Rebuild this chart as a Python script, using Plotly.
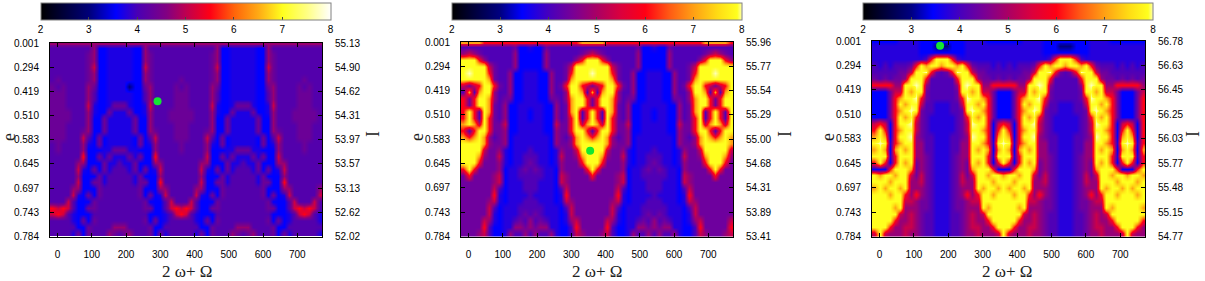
import plotly.graph_objects as go
import numpy as np

# Three panels of the same map.
# Each row is one band of e (top to bottom), each char one column of 2w+W (-15, 0, 15 ... 765).
# The char is an index into the panel's levels list.
CODES = "0123456789w"
LEVELS_A = [3.0, 3.55, 3.72, 4.1, 4.35, 4.75, 5.1, 5.5, 6.2, 7.0, 8.0]
LEVELS_B = [3.0, 3.45, 3.75, 4.1, 4.4, 4.8, 5.3, 5.95, 7.0, 7.9, 8.0]

x_vals = list(range(-15, 766, 15))
x_ticks = [0, 100, 200, 300, 400, 500, 600, 700]
e_labels = ["0.001", "0.294", "0.419", "0.510", "0.583", "0.645", "0.697", "0.743", "0.784"]
I_labels_a = ["55.13", "54.90", "54.62", "54.31", "53.97", "53.57", "53.13", "52.62", "52.02"]
I_labels_b = ["55.96", "55.77", "55.54", "55.29", "55.00", "54.68", "54.31", "53.89", "53.41"]
I_labels_c = ["56.78", "56.63", "56.45", "56.25", "56.03", "55.77", "55.48", "55.15", "54.77"]
cbar_ticks = [2, 3, 4, 5, 6, 7, 8]

rows_a = [
    "55555555555555555555555555555555555555555555555555555",
    "3" + "3333333511222" + "22115333333" + "3333333511222" + "22115333333" + "3333",
    "3" + "3333334511222" + "22115433333" + "3333334511222" + "22115433333" + "3333",
    "3" + "3333334511222" + "22115433333" + "3333334511222" + "22115433333" + "3333",
    "3" + "3333334611222" + "22116433333" + "3333334611222" + "22116433333" + "3333",
    "3" + "3333334511222" + "22115433333" + "3333334511222" + "22115433333" + "3333",
    "3" + "4333334511222" + "22115433333" + "4333334511222" + "22115433333" + "4333",
    "4" + "3433335411222" + "20114533334" + "3433335411222" + "22114533334" + "3433",
    "4" + "4433335311222" + "22113533334" + "4433335311222" + "22113533334" + "4433",
    "4" + "4433335311222" + "22113533334" + "4433335311222" + "22113533334" + "4433",
    "4" + "4433336211244" + "42112633334" + "4433336211244" + "42112633334" + "4433",
    "4" + "4443335211422" + "24112533344" + "4443335211422" + "24112533344" + "4443",
    "4" + "4443335114222" + "22411533344" + "4443335114222" + "22411533344" + "4443",
    "4" + "4433335114222" + "22411533334" + "4433335114222" + "22411533334" + "4433",
    "4" + "4433345114222" + "22411543334" + "4433345114222" + "22411543334" + "4433",
    "4" + "4433363141222" + "22141363334" + "4433363141222" + "22141363334" + "4433",
    "3" + "4333352141222" + "22141253333" + "4333352141222" + "22141253333" + "4333",
    "3" + "4333351112244" + "42211153333" + "4333351112244" + "42211153333" + "4333",
    "3" + "3333371142422" + "24241173333" + "3333361142422" + "24241163333" + "3333",
    "3" + "3333551114223" + "22411155333" + "3333551114223" + "22411155333" + "3333",
    "3" + "3333621414233" + "32414126333" + "3333621414233" + "32414126333" + "3333",
    "3" + "3333511142333" + "33241115333" + "3333511142333" + "33241115333" + "3333",
    "3" + "3333611442333" + "33244117333" + "3333611442333" + "33244117333" + "3333",
    "3" + "3335511143333" + "33341115533" + "3335511143333" + "33341115533" + "3335",
    "3" + "3336214143333" + "33341412633" + "3336214143333" + "33341412633" + "3336",
    "3" + "3363111433333" + "33334111363" + "3363111433333" + "33334111363" + "3363",
    "7" + "6763114433333" + "33334411367" + "6763114433333" + "33334411367" + "6763",
    "6" + "7632111333333" + "33333111236" + "7632111333333" + "33333111236" + "7632",
    "3" + "3332141433333" + "33334141233" + "3332141433333" + "33334141233" + "3332",
    "3" + "3333114333355" + "53333411333" + "3333114333355" + "53333411333" + "3333",
    "3" + "3332414333543" + "45333414233" + "3332414333543" + "45333414233" + "3332",
]

rows_b = [
    "8" + "8887777777777" + "77777777788" + "8887777777777" + "77777777788" + "8887",
    "3" + "3333333334112" + "11433333333" + "3333333334112" + "11433333333" + "3333",
    "5" + "6543333335111" + "11533333345" + "6543333335111" + "11533333345" + "6543",
    "9" + "9975333335111" + "11533333579" + "9975333335111" + "11533333579" + "9975",
    "9" + "9999643335111" + "11533346999" + "9999643335111" + "11533346999" + "9999",
    "9" + "w999743351122" + "21153347999" + "w999743351122" + "21153347999" + "w999",
    "9" + "9999843351122" + "21153348999" + "9999843351122" + "21153348999" + "9999",
    "6" + "4679974351122" + "21153479976" + "4679974351122" + "21153479976" + "4679",
    "3" + "8389953351122" + "21153359983" + "8389953351122" + "21153359983" + "8389",
    "7" + "4799853441122" + "21144358997" + "4799853441122" + "21144358997" + "4799",
    "7" + "4799843511222" + "22115348997" + "4799843511222" + "22115348997" + "4799",
    "7" + "9739843511221" + "22115348937" + "9739843511221" + "22115348937" + "9739",
    "7" + "9739743511221" + "22115347937" + "9739743511221" + "22115347937" + "9739",
    "8" + "9869744611222" + "22116447968" + "9869744611222" + "22116447968" + "9869",
    "7" + "3799744511222" + "22115447997" + "3799744511222" + "22115447997" + "3799",
    "8" + "7898534512222" + "22215435898" + "7898534512222" + "22215435898" + "7898",
    "9" + "9998544512222" + "22215445899" + "9998544512222" + "22215445899" + "9998",
    "9" + "9996445212223" + "22212544699" + "9996445212223" + "22212544699" + "9996",
    "9" + "9985446212233" + "32212644589" + "9985446212233" + "32212644589" + "9985",
    "9" + "9974445212234" + "32212544479" + "9974445212234" + "32212544479" + "9974",
    "7" + "9744445122343" + "43221544447" + "9744445122343" + "43221544447" + "9744",
    "4" + "7444456122333" + "33221654444" + "7444456122333" + "33221654444" + "7444",
    "4" + "4444456122233" + "32221654444" + "4444456122233" + "32221654444" + "4444",
    "4" + "4444463122233" + "32221364444" + "4444463122233" + "32221364444" + "4444",
    "4" + "4444472122223" + "22221274444" + "4444472122223" + "22221274444" + "4444",
    "4" + "4444562122233" + "32221265444" + "4444562122233" + "32221265444" + "4444",
    "4" + "4444631222333" + "33222136444" + "4444631222333" + "33222136444" + "4444",
    "4" + "4444621222343" + "43222126444" + "4444621222343" + "43222126444" + "4444",
    "4" + "4446521223435" + "34322125644" + "4446521223435" + "34322125644" + "4446",
    "4" + "4447311225545" + "45522113744" + "4447311225545" + "45522113744" + "4447",
    "4" + "4456311253353" + "53352113654" + "4456311253353" + "53352113654" + "4456",
]

rows_c = [
    "1" + "1111222211111" + "11112222111" + "1111222211111" + "11112222111" + "1111",
    "2" + "2222222211100" + "01112222222" + "2222222211100" + "01112222222" + "2222",
    "2" + "2222222211111" + "11112222222" + "2222222211111" + "11112222222" + "2222",
    "2" + "2222222223799" + "97322222222" + "2222222223799" + "97322222222" + "2222",
    "3" + "2323334798998" + "99897433323" + "2323334798998" + "99897433323" + "2323",
    "3" + "333344699w743" + "47w99644333" + "333344699w743" + "47w99644333" + "3333",
    "4" + "3434459997333" + "33799954434" + "3434459997333" + "33799954434" + "3434",
    "7" + "7775599w95333" + "3359w995577" + "7775599w95333" + "3359w995577" + "7775",
    "1" + "1146698994333" + "33499896641" + "1146698994333" + "33499896641" + "1146",
    "1" + "1147899w74333" + "3347w998741" + "1147899w74333" + "3347w998741" + "1147",
    "1" + "1147989963322" + "23369989741" + "1147989963322" + "23369989741" + "1147",
    "1" + "114789w943322" + "23349w98741" + "114789w943322" + "23349w98741" + "1147",
    "1" + "1147989743222" + "22347989741" + "1147989743222" + "22347989741" + "1147",
    "6" + "761799w643222" + "22346w99716" + "761799w643222" + "22346w99716" + "7617",
    "7" + "9717899643222" + "22346998717" + "9717899643222" + "22346998717" + "9717",
    "8" + "981799w543322" + "23345w99718" + "981799w543322" + "23345w99718" + "9817",
    "9" + "w927899553322" + "23355998729" + "w927899553322" + "23355998729" + "w927",
    "8" + "9818989553322" + "23355989818" + "9818989553322" + "23355989818" + "9818",
    "9" + "9927999554322" + "23455999729" + "9927999554322" + "23455999729" + "9927",
    "7" + "9717989454322" + "23454989717" + "9717989454322" + "23454989717" + "9717",
    "1" + "1179998454322" + "23454899971" + "1179998454322" + "23454899971" + "1179",
    "9" + "8998996464322" + "23464699899" + "8998996464322" + "23464699899" + "8998",
    "9" + "9989995564322" + "23465599989" + "9989995564322" + "23465599989" + "9989",
    "8" + "9899895554322" + "23455598998" + "9899895554322" + "23455598998" + "9899",
    "9" + "9989975754322" + "23457579989" + "9989975754322" + "23457579989" + "9989",
    "9" + "9999966544322" + "23445669999" + "9999966544322" + "23445669999" + "9999",
    "9" + "9998955544322" + "23445559899" + "9998955544322" + "23445559899" + "9998",
    "9" + "9999656543322" + "23345656999" + "9999656543322" + "23345656999" + "9999",
    "9" + "9997556543322" + "23345655799" + "9997556543322" + "23345655799" + "9997",
    "9" + "9975566543322" + "23345665579" + "9975566543322" + "23345665579" + "9975",
    "6" + "9655565543322" + "23345565556" + "9655565543322" + "23345565556" + "9655",
]

# green dots
dot_x = [292, 355, 176]
dot_y = [2.41, 4.47, 0.19]

W, H = 1205, 281

palette_a = [(2, "#000000"), (3, "#00007a"), (3.55, "#0000ff"), (4, "#4a00b4"), (4.6, "#820082"),
             (5, "#be0050"), (5.5, "#ff0014"), (6, "#ff640a"), (6.5, "#ffaa14"), (7, "#ffff1e"),
             (7.5, "#ffff82"), (8, "#ffffff")]
palette_b = [(2, "#000000"), (3, "#000082"), (3.45, "#0000ff"), (4, "#4600be"), (4.5, "#780096"),
             (5, "#aa0064"), (5.5, "#dc003c"), (6, "#ff0014"), (6.5, "#ff5a14"), (7, "#ffa014"),
             (7.5, "#ffdc14"), (7.9, "#ffff1e"), (8, "#ffffb4")]


def scale(pal):
    return [[(v - 2) / 6, c] for v, c in pal]


def grid(rows, levels):
    return [[levels[CODES.index(ch)] for ch in r] for r in rows]


# first band is only the thin line at the top edge
y_edges = [0.0] + list(np.linspace(0.08, 8, 31))

panels = [
    dict(rows=rows_a, levels=LEVELS_A, pal=palette_a, I=I_labels_a, x0=50, x1=322, top=43, bot=236.5,
         cb0=40.5, cb1=330, title_x=187, e_x=9, I_x=373),
    dict(rows=rows_b, levels=LEVELS_B, pal=palette_b, I=I_labels_b, x0=461, x1=733, top=42, bot=236.5,
         cb0=451.7, cb1=741.7, title_x=597, e_x=417, I_x=785),
    dict(rows=rows_c, levels=LEVELS_B, pal=palette_b, I=I_labels_c, x0=872, x1=1145, top=41, bot=236.5,
         cb0=863, cb1=1153, title_x=1007, e_x=828, I_x=1193),
]

fig = go.Figure()
layout = dict(
    width=W, height=H, margin=dict(l=0, r=0, t=0, b=0, autoexpand=False), showlegend=False,
    paper_bgcolor="white", plot_bgcolor="white",
    font=dict(family="Liberation Sans", size=10, color="black"),
)
notes = []

for n, p in enumerate(panels):
    k = n + 1
    xa = "x" if n == 0 else "x%d" % k
    ya = "y%d" % (2 * n + 1) if n else "y"
    yb = "y%d" % (2 * n + 2)
    ca = "coloraxis" if n == 0 else "coloraxis%d" % k
    fig.add_trace(go.Heatmap(x=x_vals, y=y_edges, z=grid(p["rows"], p["levels"]), coloraxis=ca,
                             xaxis=xa, yaxis=ya, zsmooth="best", hoverinfo="skip"))
    fig.add_trace(go.Scatter(x=[dot_x[n]], y=[dot_y[n]], mode="markers", xaxis=xa, yaxis=yb,
                             marker=dict(size=8, color="#14e632"), cliponaxis=False))

    frame = dict(showline=True, linecolor="black", linewidth=1, ticks="inside", ticklen=4,
                 tickcolor="black", showgrid=False, zeroline=False, ticklabelstandoff=8)
    layout["xaxis" + ("" if n == 0 else str(k))] = dict(
        frame, domain=[p["x0"] / W, p["x1"] / W], range=[-22, 772], anchor=ya, mirror="ticks",
        tickvals=x_ticks)
    layout["yaxis" + ("" if n == 0 else str(2 * n + 1))] = dict(
        frame, domain=[1 - p["bot"] / H, 1 - p["top"] / H], range=[8, 0], anchor=xa,
        tickvals=list(range(9)), ticktext=e_labels)
    layout["yaxis%d" % (2 * n + 2)] = dict(
        frame, domain=[1 - p["bot"] / H, 1 - p["top"] / H], range=[8, 0], anchor=xa, side="right",
        overlaying=ya, tickvals=list(range(9)), ticktext=p["I"], ticklabelstandoff=10)
    layout[ca] = dict(
        cmin=2, cmax=8, colorscale=scale(p["pal"]),
        colorbar=dict(orientation="h", x=p["cb0"] / W, xanchor="left", y=1 - 3 / H, yanchor="top",
                      lenmode="pixels", len=p["cb1"] - p["cb0"], thicknessmode="pixels", thickness=17,
                      xpad=0, ypad=0, tickvals=cbar_ticks, ticks="inside", ticklen=3, tickcolor="#444444",
                      outlinecolor="#808080", outlinewidth=1, tickfont=dict(size=10)),
    )
    notes.append(dict(text="2 ω+ Ω", x=p["title_x"] / W, y=1 - 271 / H, font_size=17))
    notes.append(dict(text="e", x=p["e_x"] / W, y=1 - 137 / H, font_size=18, textangle=-90))
    notes.append(dict(text="I", x=p["I_x"] / W, y=1 - 134 / H, font_size=18, textangle=-90))

fig.update_layout(**layout)
for a in notes:
    fs = a.pop("font_size")
    fig.add_annotation(xref="paper", yref="paper", showarrow=False, xanchor="center", yanchor="middle",
                       borderpad=0, font=dict(family="Liberation Serif", size=fs, color="#222222"), **a)

fig.write_html("out.html", config={"displayModeBar": False},
               post_script="document.body.style.margin='0';")
